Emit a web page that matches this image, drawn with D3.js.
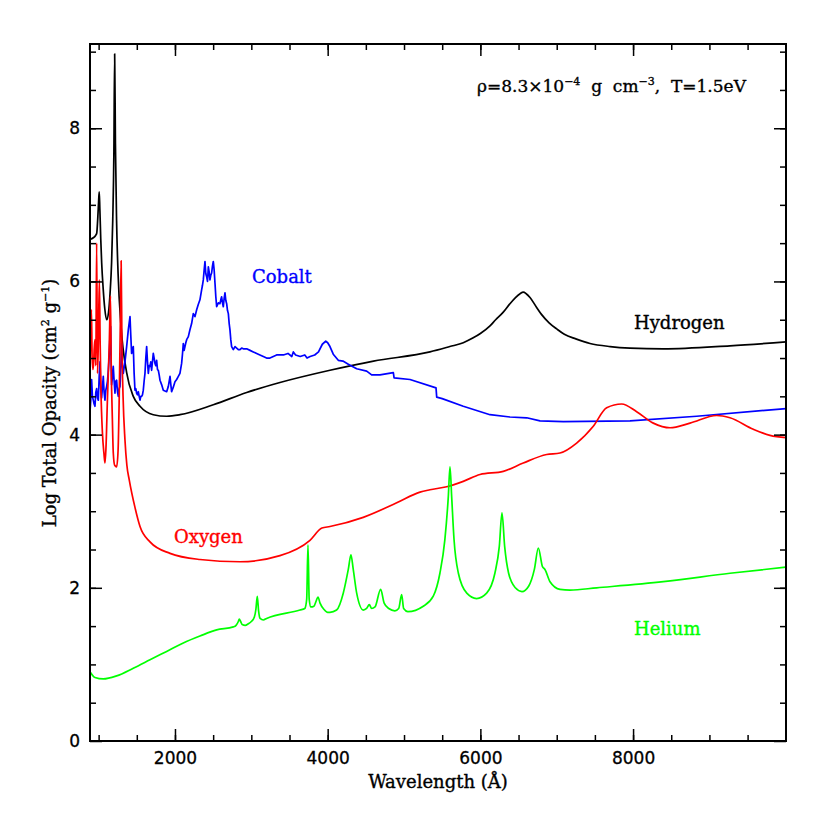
<!DOCTYPE html>
<html>
<head>
<meta charset="utf-8">
<script src="https://cdn.jsdelivr.net/npm/d3@7"></script>
<style>
  body { margin: 0; background: #fff; }
</style>
</head>
<body>
<div class="canvas"></div>
<script>
// wavelength (A), log opacity pairs
const hydrogen = [
  [887,6.55],[930,6.57],[960,6.60],[975,6.63],[990,6.85],[1000,7.05],[1008,7.17],[1016,6.95],
  [1028,6.55],[1040,6.24],[1060,5.90],[1080,5.65],[1105,5.50],[1130,5.60],[1150,5.85],[1170,6.25],
  [1185,6.80],[1200,7.70],[1210,8.97],[1220,7.80],[1235,6.80],[1255,6.10],[1293,5.42],[1367,4.81],
  [1454,4.50],[1542,4.37],[1716,4.26],[1891,4.24],[2065,4.26],[2502,4.39],[2939,4.55],[3375,4.68],
  [4030,4.84],[4600,4.96],[5340,5.08],[5600,5.15],[5776,5.20],[5900,5.26],[6000,5.32],[6126,5.42],
  [6200,5.50],[6300,5.60],[6380,5.70],[6460,5.79],[6520,5.84],[6562,5.86],[6600,5.84],[6650,5.79],
  [6737,5.66],[6800,5.57],[6900,5.46],[7000,5.38],[7100,5.31],[7250,5.25],[7436,5.19],[7700,5.15],
  [7960,5.13],[8396,5.12],[9269,5.16],[10003,5.21]
];

const cobalt = [
  [887,4.30],[897,4.45],[908,4.72],[919,4.50],[930,4.45],[941,4.40],[952,4.37],[963,4.55],
  [974,4.60],[985,4.48],[996,4.45],[1007,4.75],[1018,4.95],[1028,4.60],[1039,4.48],[1050,4.62],
  [1061,4.76],[1072,4.55],[1083,4.45],[1094,4.58],[1105,4.63],[1116,4.70],[1127,4.84],[1140,5.05],
  [1149,5.30],[1157,5.41],[1163,5.00],[1170,4.65],[1181,4.75],[1192,4.89],[1203,4.70],[1214,4.54],
  [1225,4.70],[1236,4.71],[1247,4.56],[1258,4.50],[1269,4.60],[1280,4.63],[1290,4.85],[1301,5.19],
  [1312,4.90],[1323,4.80],[1345,4.95],[1367,5.15],[1389,5.37],[1411,5.54],[1421,5.30],[1432,5.06],
  [1443,5.10],[1454,5.15],[1465,4.80],[1476,4.58],[1487,4.60],[1498,4.54],[1509,4.52],[1520,4.56],
  [1531,4.50],[1542,4.45],[1552,4.50],[1563,4.50],[1574,4.52],[1585,4.58],[1596,4.70],[1607,4.80],
  [1618,5.00],[1629,5.15],[1640,4.95],[1651,4.80],[1662,4.90],[1673,4.89],[1683,4.95],[1694,4.84],
  [1705,4.95],[1716,5.06],[1727,5.00],[1738,4.93],[1749,4.90],[1760,4.97],[1771,4.85],[1782,4.84],
  [1793,4.78],[1804,4.71],[1826,4.65],[1847,4.58],[1869,4.57],[1891,4.56],[1913,4.63],[1935,4.76],
  [1946,4.65],[1956,4.56],[1978,4.62],[2000,4.69],[2022,4.72],[2044,4.76],[2065,4.80],[2087,4.93],
  [2098,5.05],[2109,5.19],[2120,5.10],[2131,5.15],[2142,5.20],[2153,5.24],[2175,5.28],[2196,5.37],
  [2218,5.45],[2240,5.58],[2262,5.54],[2284,5.63],[2305,5.70],[2327,5.76],[2349,5.89],[2360,5.95],
  [2371,6.02],[2382,6.15],[2393,6.26],[2404,6.10],[2415,6.06],[2426,6.00],[2437,6.19],[2448,6.12],
  [2458,6.02],[2469,6.08],[2480,6.11],[2491,6.20],[2502,6.26],[2513,6.15],[2524,5.98],[2535,5.80],
  [2546,5.67],[2568,5.72],[2589,5.71],[2600,5.76],[2611,5.80],[2622,5.72],[2633,5.67],[2644,5.78],
  [2655,5.85],[2666,5.75],[2677,5.71],[2688,5.62],[2699,5.58],[2710,5.45],[2720,5.37],[2731,5.24],
  [2742,5.15],[2764,5.11],[2786,5.15],[2808,5.13],[2830,5.11],[2851,5.11],[2873,5.13],[2895,5.12],
  [2939,5.12],[2983,5.10],[3026,5.08],[3070,5.06],[3113,5.04],[3157,5.02],[3200,5.00],[3244,5.00],
  [3288,5.02],[3331,5.04],[3375,5.04],[3420,5.04],[3480,5.06],[3530,5.02],[3550,5.08],[3580,5.04],
  [3640,5.02],[3700,5.04],[3730,5.00],[3770,5.02],[3830,5.04],[3880,5.08],[3930,5.18],[3975,5.22],
  [4000,5.20],[4030,5.15],[4073,5.05],[4139,4.97],[4200,4.96],[4270,4.92],[4380,4.86],[4511,4.83],
  [4576,4.78],[4685,4.78],[4860,4.81],[4870,4.74],[5078,4.72],[5419,4.61],[5428,4.49],[5500,4.47],
  [5776,4.37],[6126,4.26],[6388,4.23],[6607,4.22],[6781,4.18],[7086,4.17],[7960,4.18],[8833,4.24],
  [10003,4.34]
];

const oxygen = [
  [887,4.90],[897,5.40],[906,5.63],[915,5.00],[925,4.85],[935,4.95],[941,5.10],[952,5.24],
  [963,4.90],[974,6.50],[985,4.80],[996,5.20],[1010,6.02],[1020,5.20],[1030,4.60],[1050,4.02],
  [1070,3.75],[1083,3.63],[1095,3.80],[1115,4.45],[1140,5.20],[1155,5.81],[1165,4.90],[1180,4.20],
  [1192,3.76],[1210,3.60],[1236,3.58],[1255,3.80],[1270,4.50],[1285,5.50],[1295,6.27],[1305,5.20],
  [1320,4.50],[1345,3.93],[1370,3.60],[1401,3.41],[1476,3.05],[1542,2.80],[1673,2.60],[1935,2.45],
  [2327,2.37],[2851,2.34],[3375,2.42],[3768,2.62],[3925,2.78],[4030,2.80],[4466,2.92],[4904,3.11],
  [5209,3.25],[5340,3.28],[5559,3.32],[5776,3.39],[5995,3.48],[6300,3.52],[6562,3.63],[6868,3.74],
  [7043,3.76],[7261,3.89],[7479,4.11],[7654,4.35],[7851,4.40],[8047,4.30],[8265,4.15],[8484,4.09],
  [8746,4.15],[9095,4.25],[9269,4.22],[9575,4.07],[9793,3.99],[10003,3.96]
];

const helium = [
  [887,0.905],[952,0.83],[1061,0.81],[1236,0.85],[1454,0.95],[1673,1.06],[1891,1.17],[2109,1.28],
  [2327,1.37],[2546,1.45],[2764,1.49],[2800,1.51],[2830,1.56],[2842,1.59],[2860,1.56],[2880,1.52],
  [2920,1.51],[2960,1.53],[3000,1.56],[3040,1.62],[3060,1.72],[3078,1.89],[3095,1.70],[3115,1.60],
  [3157,1.58],[3200,1.60],[3637,1.71],[3700,1.73],[3725,1.85],[3742,2.56],[3758,1.85],[3780,1.75],
  [3820,1.76],[3850,1.83],[3873,1.88],[3900,1.80],[3950,1.72],[4000,1.68],[4030,1.68],[4117,1.71],
  [4204,1.93],[4270,2.24],[4305,2.43],[4335,2.24],[4380,1.93],[4466,1.71],[4510,1.73],[4545,1.78],
  [4576,1.73],[4620,1.75],[4694,1.98],[4740,1.80],[4800,1.73],[4880,1.70],[4930,1.73],[4969,1.91],
  [4995,1.73],[5050,1.69],[5252,1.76],[5383,1.89],[5470,2.19],[5535,2.63],[5580,3.19],[5602,3.58],
  [5624,3.19],[5655,2.63],[5712,2.19],[5822,1.93],[5951,1.86],[6082,1.93],[6190,2.19],[6248,2.54],
  [6283,2.98],[6318,2.54],[6370,2.19],[6458,2.00],[6545,1.95],[6632,2.02],[6707,2.24],[6759,2.52],
  [6812,2.28],[6846,2.24],[6912,2.08],[7043,1.98],[7174,1.97],[7523,2.00],[8396,2.08],[9269,2.19],
  [10003,2.27]
];

const xMajor = [2000, 4000, 6000, 8000];
const xMinor = d3.range(1000, 10000, 500);
const yMajor = [0, 2, 4, 6, 8];
const yMinor = d3.range(0.5, 9.01, 0.5);

const dims = { left: 90, right: 786, top: 44, bottom: 741 };

const svg = d3.select('.canvas')
  .append('svg')
  .attr('width', 830)
  .attr('height', 830);

const x = d3.scaleLinear().domain([887, 10003]).range([dims.left, dims.right]);
const y = d3.scaleLinear().domain([0, 9.1]).range([dims.bottom, dims.top]);

const serif = '"DejaVu Serif", serif';
const sans = '"DejaVu Sans", sans-serif';

// curves
const line = d3.line()
  .x(d => x(d[0]))
  .y(d => y(d[1]));

const series = [
  { data: hydrogen, colour: '#000000', curve: d3.curveMonotoneX },
  { data: cobalt, colour: '#0000ff', curve: d3.curveLinear },
  { data: oxygen, colour: '#ff0000', curve: d3.curveMonotoneX },
  { data: helium, colour: '#00ff00', curve: d3.curveMonotoneX }
];

const plot = svg.append('g');
series.forEach(s => {
  plot.append('path')
    .attr('d', line.curve(s.curve)(s.data))
    .attr('fill', 'none')
    .attr('stroke', s.colour)
    .attr('stroke-width', 1.7)
    .attr('stroke-linejoin', 'round');
});

// ticks on all four sides, pointing in
const addAxis = (axis, tx, ty, labels) => {
  const g = svg.append('g')
    .attr('transform', `translate(${tx},${ty})`)
    .call(axis);
  g.select('.domain').remove();
  g.selectAll('line').attr('stroke', '#000').attr('stroke-width', 1.5);
  g.selectAll('text')
    .attr('font-family', sans)
    .attr('font-size', 17)
    .attr('fill', '#000')
    .attr('stroke', '#000')
    .attr('stroke-width', 0.3);
  if (!labels) g.selectAll('text').remove();
  return g;
};

addAxis(d3.axisBottom(x).tickValues(xMajor).tickSize(-12).tickPadding(11).tickFormat(d3.format('d')), 0, dims.bottom, true);
addAxis(d3.axisBottom(x).tickValues(xMinor).tickSize(-6), 0, dims.bottom, false);
addAxis(d3.axisTop(x).tickValues(xMajor).tickSize(-12), 0, dims.top, false);
addAxis(d3.axisTop(x).tickValues(xMinor).tickSize(-6), 0, dims.top, false);
addAxis(d3.axisLeft(y).tickValues(yMajor).tickSize(-12).tickPadding(10).tickFormat(d3.format('d')), dims.left, 0, true);
addAxis(d3.axisLeft(y).tickValues(yMinor).tickSize(-6), dims.left, 0, false);
addAxis(d3.axisRight(y).tickValues(yMajor).tickSize(-12), dims.right, 0, false);
addAxis(d3.axisRight(y).tickValues(yMinor).tickSize(-6), dims.right, 0, false);

// frame
svg.append('rect')
  .attr('x', dims.left)
  .attr('y', dims.top)
  .attr('width', dims.right - dims.left)
  .attr('height', dims.bottom - dims.top)
  .attr('fill', 'none')
  .attr('stroke', '#000')
  .attr('stroke-width', 2);

// text helper: serif, slightly heavier like the plotting package
const serifText = (sel, size, colour) => sel
  .attr('font-family', serif)
  .attr('font-size', size)
  .attr('fill', colour)
  .attr('stroke', colour)
  .attr('stroke-width', 0.35)
  .style('white-space', 'pre');

// axis titles
serifText(svg.append('text'), 18, '#000')
  .attr('x', 438)
  .attr('y', 788)
  .attr('text-anchor', 'middle')
  .text('Wavelength (Å)');

const yTitle = serifText(svg.append('text'), 18, '#000')
  .attr('transform', 'translate(56,403) rotate(-90)')
  .attr('text-anchor', 'middle');
yTitle.append('tspan').text('Log Total Opacity (cm');
yTitle.append('tspan').attr('dy', -7).attr('font-size', 11).text('2');
yTitle.append('tspan').attr('dy', 7).text(' g');
yTitle.append('tspan').attr('dy', -7).attr('font-size', 11).text('−1');
yTitle.append('tspan').attr('dy', 7).text(')');

// conditions
const note = serifText(svg.append('text'), 17, '#000')
  .attr('x', 477)
  .attr('y', 92);
note.append('tspan').text('ρ=8.3×10');
note.append('tspan').attr('dy', -7).attr('font-size', 11).text('−4');
note.append('tspan').attr('dy', 7).text('  g  cm');
note.append('tspan').attr('dy', -7).attr('font-size', 11).text('−3');
note.append('tspan').attr('dy', 7).text(',  T=1.5eV');

// curve labels
const curveLabels = [
  { text: 'Cobalt', x: 252, y: 283, colour: '#0000ff' },
  { text: 'Hydrogen', x: 634, y: 329, colour: '#000000' },
  { text: 'Oxygen', x: 174, y: 543, colour: '#ff0000' },
  { text: 'Helium', x: 634, y: 635, colour: '#00ff00' }
];
curveLabels.forEach(d => {
  serifText(svg.append('text'), 18, d.colour)
    .attr('x', d.x)
    .attr('y', d.y)
    .text(d.text);
});
</script>
</body>
</html>
